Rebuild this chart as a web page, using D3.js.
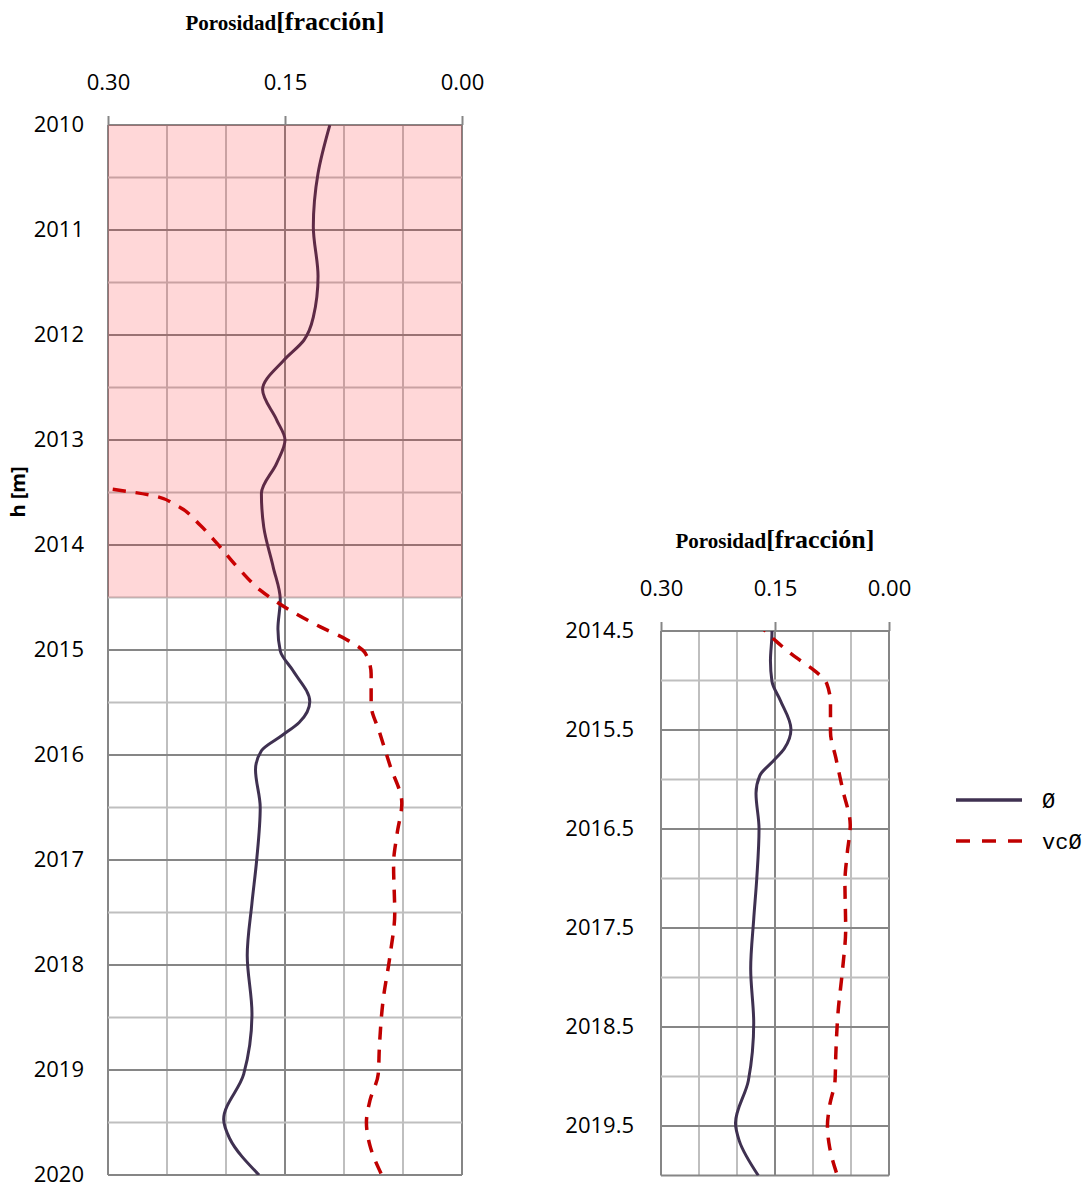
<!DOCTYPE html>
<html>
<head>
<meta charset="utf-8">
<script src="https://cdn.jsdelivr.net/npm/d3@7"></script>
<style>
  body { margin: 0; background: #fff; }
  svg { display: block; }
  .tick text { font-family: "Open Sans", sans-serif; font-size: 22px; fill: #000; }
</style>
</head>
<body>
<svg id="chart" width="1086" height="1188"></svg>
<script>
// Porosity log: phi (solid) and vc-phi (dashed) vs depth h [m]
const phiDepth = [2010.0, 2010.46, 2010.97, 2011.44, 2011.83, 2012.05, 2012.24, 2012.52, 2012.81, 2013.0,
  2013.22, 2013.51, 2013.83, 2014.21, 2014.52, 2014.8, 2015.01, 2015.2, 2015.49, 2015.69, 2015.81,
  2015.96, 2016.14, 2016.5, 2017.0, 2017.41, 2017.91, 2018.46, 2019.04, 2019.47, 2019.65, 2020.0];
const phiVals = [0.112, 0.122, 0.126, 0.122, 0.126, 0.134, 0.151, 0.169, 0.157, 0.150,
  0.157, 0.170, 0.168, 0.160, 0.154, 0.156, 0.154, 0.143, 0.129, 0.138, 0.152,
  0.170, 0.175, 0.171, 0.174, 0.178, 0.182, 0.178, 0.185, 0.202, 0.197, 0.172];

const vcDepth = [2013.47, 2013.53, 2013.63, 2013.81, 2013.98, 2014.24, 2014.43, 2014.6, 2014.78, 2014.9,
  2015.03, 2015.23, 2015.52, 2015.78, 2016.1, 2016.46, 2016.75, 2017.04, 2017.51, 2017.91,
  2018.35, 2018.78, 2019.04, 2019.29, 2019.5, 2019.72, 2020.0];
const vcVals = [0.296, 0.262, 0.241, 0.222, 0.208, 0.188, 0.171, 0.149, 0.120, 0.098,
  0.082, 0.077, 0.077, 0.070, 0.061, 0.051, 0.055, 0.058, 0.057, 0.061,
  0.067, 0.070, 0.071, 0.078, 0.081, 0.078, 0.068];

const xTicks = [0.30, 0.15, 0.00];
const leftDepthTicks = [2010, 2011, 2012, 2013, 2014, 2015, 2016, 2017, 2018, 2019, 2020];
const rightDepthTicks = [2014.5, 2015.5, 2016.5, 2017.5, 2018.5, 2019.5];
const shadeRange = [2010, 2014.5];
const seriesNames = ["Ø", "vcØ"];

const COL = { phi: "#3f3151", vc: "#c00000", major: "#868686", minor: "#bfbfbf" };

const svg = d3.select("#chart");

function drawTrack(o) {
  const x = d3.scaleLinear().domain([0.30, 0]).range([o.x0, o.x1]);
  const y = d3.scaleLinear().domain(o.yDomain).range([o.y0, o.y1]);
  const g = svg.append("g");

  const clipId = "clip-" + o.id;
  g.append("clipPath").attr("id", clipId)
    .append("rect")
    .attr("x", o.x0).attr("y", o.y0)
    .attr("width", o.x1 - o.x0).attr("height", o.y1 - o.y0);

  // gridlines: every 0.05 across, every 0.5 m down
  const xs = d3.range(0, 7).map(i => +(i * 0.05).toFixed(2));
  const ys = d3.range(o.yDomain[0], o.yDomain[1] + 0.001, 0.5);

  g.selectAll("line.gx").data(xs).join("line")
    .attr("x1", d => x(d)).attr("x2", d => x(d))
    .attr("y1", o.y0).attr("y2", o.y1)
    .attr("stroke", d => (d === 0 || d === 0.15 || d === 0.3) ? COL.major : COL.minor)
    .attr("stroke-width", 2);

  g.selectAll("line.gy").data(ys).join("line")
    .attr("x1", o.x0).attr("x2", o.x1)
    .attr("y1", d => y(d)).attr("y2", d => y(d))
    .attr("stroke", (d, i) => (o.isMajor(d) || i === ys.length - 1) ? COL.major : COL.minor)
    .attr("stroke-width", 2);

  // axes
  const top = g.append("g")
    .attr("transform", `translate(0,${o.y0})`)
    .call(d3.axisTop(x).tickValues(xTicks).tickSize(9).tickPadding(26).tickFormat(d3.format(".2f")));
  top.select(".domain").remove();
  top.selectAll(".tick line").attr("stroke", COL.major).attr("stroke-width", 2);

  const left = g.append("g")
    .attr("transform", `translate(${o.x0},0)`)
    .call(d3.axisLeft(y).tickValues(o.yTicks).tickSize(0).tickPadding(o.yPad)
      .tickFormat(d => o.yFmt(d)));
  left.select(".domain").remove();
  left.selectAll(".tick text").attr("dy", "0.3em");

  // lines
  const line = d3.line()
    .x(d => x(d[1]))
    .y(d => y(d[0]))
    .curve(d3.curveMonotoneY);

  const plot = g.append("g").attr("clip-path", `url(#${clipId})`);
  plot.append("path")
    .datum(d3.zip(phiDepth, phiVals))
    .attr("d", line)
    .attr("fill", "none")
    .attr("stroke", COL.phi)
    .attr("stroke-width", 3);
  plot.append("path")
    .datum(d3.zip(vcDepth, vcVals))
    .attr("d", line)
    .attr("fill", "none")
    .attr("stroke", COL.vc)
    .attr("stroke-width", 3.5)
    .attr("stroke-dasharray", "13,10");

  // shaded interval on top
  if (o.shade) {
    const s0 = Math.max(shadeRange[0], o.yDomain[0]);
    plot.append("rect")
      .attr("x", o.x0).attr("width", o.x1 - o.x0)
      .attr("y", y(s0)).attr("height", y(shadeRange[1]) - y(s0))
      .attr("fill", "rgb(255,10,20)")
      .attr("fill-opacity", 0.165);
  }

  // title
  const t = g.append("text")
    .attr("x", (o.x0 + o.x1) / 2).attr("y", o.titleY)
    .attr("text-anchor", "middle")
    .attr("font-family", "'Liberation Serif', 'Times New Roman', serif")
    .attr("font-weight", "bold");
  t.append("tspan").attr("font-size", 21).text("Porosidad");
  t.append("tspan").attr("font-size", 26).text("[fracción]");
}

drawTrack({
  id: "left", x0: 108, x1: 462, y0: 125, y1: 1175,
  yDomain: [2010, 2020], yTicks: leftDepthTicks, yPad: 24,
  yFmt: d3.format("d"), isMajor: d => Number.isInteger(d),
  shade: true, titleY: 30
});

drawTrack({
  id: "right", x0: 661, x1: 889, y0: 631, y1: 1175.5,
  yDomain: [2014.5, 2020], yTicks: rightDepthTicks, yPad: 27,
  yFmt: d3.format(".1f"), isMajor: d => !Number.isInteger(d),
  shade: false, titleY: 548
});

// depth axis label
svg.append("text")
  .attr("transform", "translate(25,492) rotate(-90)")
  .attr("text-anchor", "middle")
  .attr("font-family", "'Open Sans', sans-serif")
  .attr("font-size", 20)
  .attr("font-weight", "bold")
  .text("h [m]");

// legend
const legend = svg.append("g").attr("transform", "translate(956,800)");
const legItems = legend.selectAll("g").data(seriesNames).join("g")
  .attr("transform", (d, i) => `translate(0,${i * 41})`);
legItems.append("line")
  .attr("x1", 0).attr("x2", 66)
  .attr("stroke", (d, i) => i === 0 ? COL.phi : COL.vc)
  .attr("stroke-width", 3.5)
  .attr("stroke-dasharray", (d, i) => i === 0 ? null : "14,12");
legItems.append("text")
  .attr("x", 86).attr("dy", "0.35em")
  .attr("font-family", "'Liberation Mono', 'Courier New', monospace")
  .attr("font-size", 22)
  .text(d => d);
</script>
</body>
</html>
